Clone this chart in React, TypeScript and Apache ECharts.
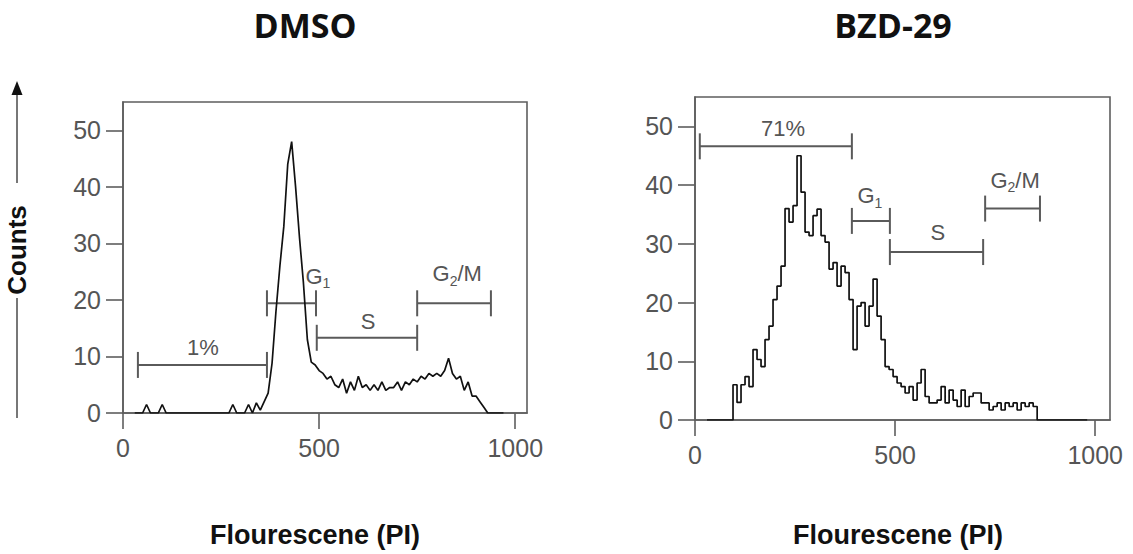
import React, { useEffect, useRef } from "react";
import * as echarts from "echarts";

// ---- Data ----
const dmsoChannel = [30, 40, 50, 60, 70, 80, 90, 100, 110, 120, 130, 140, 150, 160, 170, 180, 190, 200, 210, 220, 230, 240, 250, 260, 270, 280, 290, 300, 310, 320, 330, 340, 350, 360, 370, 380, 390, 400, 410, 420, 430, 440, 450, 460, 470, 480, 490, 500, 510, 520, 530, 540, 550, 560, 570, 580, 590, 600, 610, 620, 630, 640, 650, 660, 670, 680, 690, 700, 710, 720, 730, 740, 750, 760, 770, 780, 790, 800, 810, 820, 830, 840, 850, 860, 870, 880, 890, 900, 910, 920, 930, 940, 950, 960, 970];
const dmsoCount = [0, 0, 0, 1.5, 0, 0, 0, 1.5, 0, 0, 0, 0, 0, 0, 0, 0, 0, 0, 0, 0, 0, 0, 0, 0, 0, 1.5, 0, 0, 0, 1.5, 0, 1.8, 0.5, 2, 3.5, 8.8, 18, 26, 33, 44, 48, 40, 31, 23, 13, 9, 8.5, 7.5, 7, 6, 6.5, 5, 4.5, 6, 3.5, 5.5, 4, 6.5, 4.5, 5, 4, 5, 4, 5.5, 4, 4.5, 4.5, 5.5, 4, 5.5, 5, 6, 5.5, 6.5, 6, 7, 6.5, 7, 6.5, 7.5, 9.7, 7, 6, 6.5, 4, 5.5, 3, 3, 2, 1, 0, 0, 0, 0, 0];

const bzdChannel = [30, 40, 50, 60, 70, 80, 90, 100, 110, 120, 130, 140, 150, 160, 170, 180, 190, 200, 210, 220, 230, 240, 250, 260, 270, 280, 290, 300, 310, 320, 330, 340, 350, 360, 370, 380, 390, 400, 410, 420, 430, 440, 450, 460, 470, 480, 490, 500, 510, 520, 530, 540, 550, 560, 570, 580, 590, 600, 610, 620, 630, 640, 650, 660, 670, 680, 690, 700, 710, 720, 730, 740, 750, 760, 770, 780, 790, 800, 810, 820, 830, 840, 850, 860, 870, 880, 890, 900, 910, 920, 930, 940, 950, 960, 970, 980];
const bzdCount = [0, 0, 0, 0, 0, 0, 0, 6, 3, 6, 7.4, 5.7, 12, 10.3, 9.1, 13.7, 16, 20.5, 22.8, 26.2, 36, 33.7, 36.5, 45, 38.8, 32, 31.4, 34.8, 35.9, 31.4, 30.3, 25.7, 26.8, 22.8, 26.2, 25.1, 20.5, 12, 19.4, 20, 16, 19.4, 24, 17.7, 13.7, 9.1, 8.6, 7.4, 6.3, 5.7, 4.6, 5.7, 3.4, 6.3, 8.6, 4, 2.9, 2.9, 3.4, 5.7, 2.9, 5.1, 3.4, 2.3, 5.1, 2.3, 4, 4.6, 4.6, 2.9, 2.9, 1.7, 2.3, 2.9, 1.7, 2.9, 2.3, 2.9, 1.7, 2.9, 2.3, 2.9, 2.3, 0, 0, 0, 0, 0, 0, 0, 0, 0, 0, 0, 0, 0];

const xTicks = [0, 500, 1000];
const yTicks = [0, 10, 20, 30, 40, 50];

// gate bars: [start, end, level]
const dmsoGates = [
  [38, 367, 8.5],
  [367, 492, 19.4],
  [494, 750, 13.3],
  [750, 938, 19.4],
];
const dmsoGateLabels = ["1%", "G{s|1}", "S", "G{s|2}/M"];
const dmsoGateLabelX = [204, 497, 625, 852];
const dmsoGateLabelY = [11.5, 24.2, 16.2, 24.6];

const bzdGates = [
  [12, 392, 46.6],
  [392, 487, 33.9],
  [487, 720, 28.6],
  [725, 862, 36],
];
const bzdGateLabels = ["71%", "G{s|1}", "S", "G{s|2}/M"];
const bzdGateLabelX = [220, 437, 607, 800];
const bzdGateLabelY = [49.7, 38.2, 32, 40.8];

const titles = ["DMSO", "BZD-29"];
const xTitle = "Flourescene (PI)";
const yTitle = "Counts";

const AXIS_COLOR = "#5e5e5e";
const LABEL_COLOR = "#555555";
const FONT = "'Liberation Sans', Arial, sans-serif";

function pairs(xs: number[], ys: number[]) {
  return xs.map((x, i) => [x, ys[i]]);
}

function xAxis(gridIndex: number, max: number) {
  return {
    type: "value",
    gridIndex,
    min: 0,
    max,
    interval: 500,
    axisLine: { show: true, lineStyle: { color: AXIS_COLOR, width: 1.6 } },
    axisTick: { show: true, length: 16, customValues: xTicks, lineStyle: { color: AXIS_COLOR, width: 1.6 } },
    axisLabel: {
      customValues: xTicks,
      fontSize: 25,
      color: LABEL_COLOR,
      fontFamily: FONT,
      margin: 22,
      formatter: (v: number) => (xTicks.indexOf(v) >= 0 ? String(v) : ""),
    },
    splitLine: { show: false },
  };
}

function yAxis(gridIndex: number) {
  return {
    type: "value",
    gridIndex,
    min: 0,
    max: 55,
    interval: 10,
    axisLine: { show: true, lineStyle: { color: AXIS_COLOR, width: 1.6 } },
    axisTick: { show: true, length: 17, customValues: yTicks, lineStyle: { color: AXIS_COLOR, width: 1.6 } },
    axisLabel: {
      customValues: yTicks,
      fontSize: 25,
      color: LABEL_COLOR,
      fontFamily: FONT,
      margin: 22,
      formatter: (v: number) => (yTicks.indexOf(v) >= 0 ? String(v) : ""),
    },
    splitLine: { show: false },
  };
}

function gateSeries(idx: number, gates: number[][]) {
  return {
    type: "custom",
    xAxisIndex: idx,
    yAxisIndex: idx,
    clip: false,
    silent: true,
    data: gates,
    renderItem: (_params: any, api: any) => {
      const a = api.coord([api.value(0), api.value(2)]);
      const b = api.coord([api.value(1), api.value(2)]);
      const st = { stroke: "#5a5a5a", lineWidth: 2 };
      const cap = 13;
      return {
        type: "group",
        children: [
          { type: "line", shape: { x1: a[0], y1: a[1], x2: b[0], y2: b[1] }, style: st },
          { type: "line", shape: { x1: a[0], y1: a[1] - cap, x2: a[0], y2: a[1] + cap }, style: st },
          { type: "line", shape: { x1: b[0], y1: b[1] - cap, x2: b[0], y2: b[1] + cap }, style: st },
        ],
      };
    },
  };
}

function gateLabelSeries(idx: number, names: string[], xs: number[], ys: number[]) {
  return {
    type: "custom",
    xAxisIndex: idx,
    yAxisIndex: idx,
    clip: false,
    silent: true,
    data: names.map((_n, i) => [xs[i], ys[i], i]),
    renderItem: (_params: any, api: any) => {
      const p = api.coord([api.value(0), api.value(1)]);
      const i = api.value(2);
      return {
        type: "text",
        x: p[0],
        y: p[1],
        style: {
          text: names[i],
          fontSize: 22,
          lineHeight: 28,
          fill: LABEL_COLOR,
          fontFamily: FONT,
          align: "center",
          verticalAlign: "middle",
          rich: {
            s: { fontSize: 14, lineHeight: 14, verticalAlign: "bottom", fill: LABEL_COLOR, color: LABEL_COLOR, fontFamily: FONT },
          },
        },
      };
    },
  };
}

export default function App() {
  const ref = useRef<HTMLDivElement>(null);

  useEffect(() => {
    if (!ref.current) return;
    const chart = echarts.init(ref.current, null, { renderer: "svg" });
    const option: any = {
      animation: false,
      backgroundColor: "#ffffff",
      grid: [
        { left: 123, top: 102, width: 404, height: 311, show: true, borderColor: AXIS_COLOR, borderWidth: 1.6, backgroundColor: "transparent" },
        { left: 695, top: 97, width: 415, height: 323, show: true, borderColor: AXIS_COLOR, borderWidth: 1.6, backgroundColor: "transparent" },
      ],
      xAxis: [xAxis(0, 1030), xAxis(1, 1037)],
      yAxis: [yAxis(0), yAxis(1)],
      series: [
        {
          type: "line",
          xAxisIndex: 0,
          yAxisIndex: 0,
          showSymbol: false,
          symbol: "none",
          data: pairs(dmsoChannel, dmsoCount),
          lineStyle: { color: "#111", width: 1.7 },
        },
        {
          type: "line",
          xAxisIndex: 1,
          yAxisIndex: 1,
          step: "middle",
          showSymbol: false,
          symbol: "none",
          data: pairs(bzdChannel, bzdCount),
          lineStyle: { color: "#111", width: 1.7 },
        },
        gateSeries(0, dmsoGates),
        gateSeries(1, bzdGates),
        gateLabelSeries(0, dmsoGateLabels, dmsoGateLabelX, dmsoGateLabelY),
        gateLabelSeries(1, bzdGateLabels, bzdGateLabelX, bzdGateLabelY),
      ],
      graphic: [
        {
          type: "text",
          x: 305,
          y: 25,
          style: { text: titles[0], fontSize: 34, fontWeight: "bold", fontFamily: "'Open Sans', sans-serif", fill: "#111", align: "center", verticalAlign: "middle" },
        },
        {
          type: "text",
          x: 893,
          y: 25,
          style: { text: titles[1], fontSize: 34, fontWeight: "bold", fontFamily: "'Open Sans', sans-serif", fill: "#111", align: "center", verticalAlign: "middle" },
        },
        {
          type: "text",
          x: 315,
          y: 535,
          style: { text: xTitle, fontSize: 27, fontWeight: "bold", fontFamily: FONT, fill: "#111", align: "center", verticalAlign: "middle" },
        },
        {
          type: "text",
          x: 898,
          y: 535,
          style: { text: xTitle, fontSize: 27, fontWeight: "bold", fontFamily: FONT, fill: "#111", align: "center", verticalAlign: "middle" },
        },
        {
          type: "text",
          x: 17,
          y: 250,
          rotation: Math.PI / 2,
          style: { text: yTitle, fontSize: 26, fontWeight: "bold", fontFamily: FONT, fill: "#111", align: "center", verticalAlign: "middle" },
        },
        { type: "line", shape: { x1: 17, y1: 93, x2: 17, y2: 183 }, style: { stroke: "#777", lineWidth: 2 } },
        { type: "polygon", shape: { points: [[17, 81], [11.5, 95], [22.5, 95]] }, style: { fill: "#111" } },
        { type: "line", shape: { x1: 17, y1: 298, x2: 17, y2: 418 }, style: { stroke: "#777", lineWidth: 2 } },
      ],
    };
    chart.setOption(option);
    return () => chart.dispose();
  }, []);

  return (
    <div
      ref={ref}
      style={{ position: "fixed", left: 0, top: 0, width: 1133, height: 554, background: "#fff" }}
    />
  );
}
